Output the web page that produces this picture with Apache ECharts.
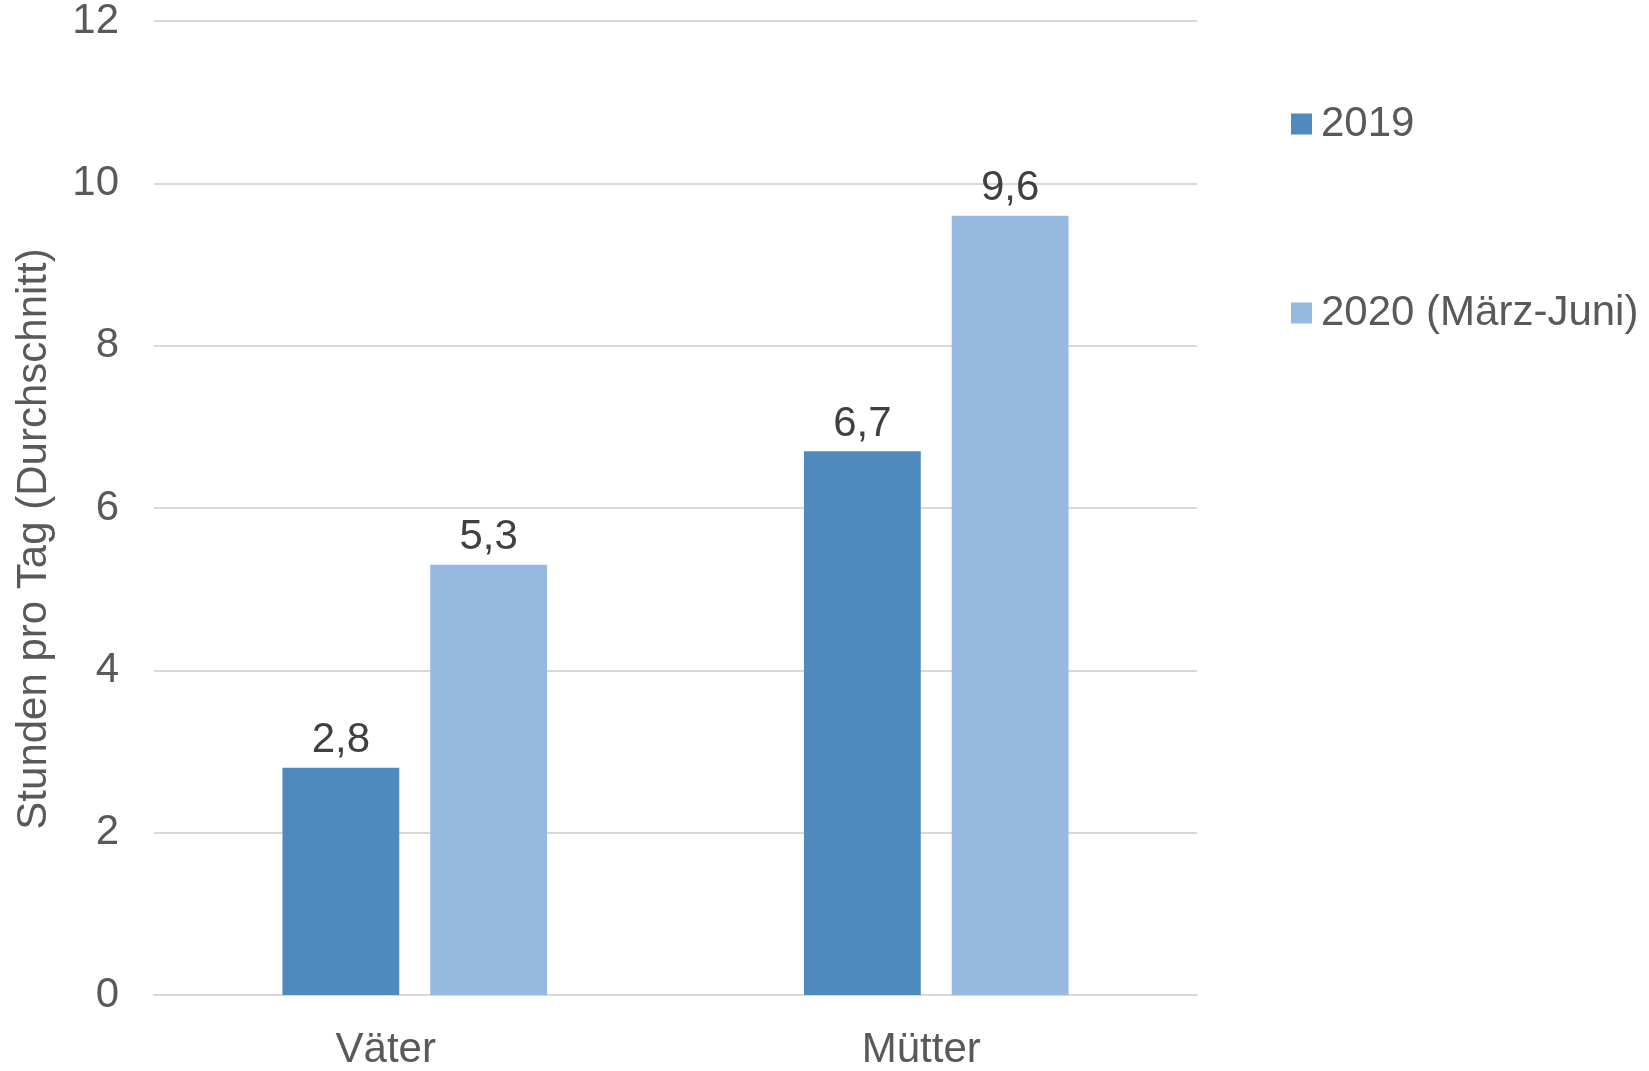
<!DOCTYPE html>
<html>
<head>
<meta charset="utf-8">
<script src="https://cdn.jsdelivr.net/npm/echarts@6/dist/echarts.min.js"></script>
<style>
  html, body { margin: 0; padding: 0; background: #fff; }
  #chart { width: 1649px; height: 1071px; }
</style>
</head>
<body>
<div id="chart"></div>
<script>
// Werte
const categories = ['Väter', 'Mütter']
const seriesNames = ['2019', '2020 (März-Juni)']
const values2019 = [2.8, 6.7]
const values2020 = [5.3, 9.6]
const yTicks = [0, 2, 4, 6, 8, 10, 12]

const axisColor = '#595959'
const labelColor = '#404040'
const fontFamily = 'Arial, "Liberation Sans", sans-serif'
const fs = 42

const chart = echarts.init(document.getElementById('chart'))

const barLabel = {
  show: true,
  position: 'top',
  distance: 6,
  color: labelColor,
  fontSize: fs,
  fontFamily: fontFamily,
  formatter: p => String(p.value).replace('.', ',')
}

const catStyle = { color: axisColor, fontSize: fs, fontFamily: fontFamily }

const option = {
  animation: false,
  color: ['#4F89BD', '#98B9DF'],
  grid: { left: 154, right: 452, top: 21, bottom: 76 },
  legend: {
    data: seriesNames,
    orient: 'vertical',
    left: 1286,
    top: 98,
    itemWidth: 21,
    itemHeight: 21,
    itemGap: 147,
    icon: 'rect',
    textStyle: {
      color: axisColor,
      fontSize: fs,
      lineHeight: 42,
      fontFamily: fontFamily,
      padding: [0, 0, 0, 4]
    }
  },
  xAxis: {
    type: 'category',
    data: categories,
    axisTick: { show: false },
    axisLine: { lineStyle: { color: '#D9D9D9', width: 2 } },
    axisLabel: {
      margin: 34,
      formatter: (value, index) => (index === 0 ? '{v|' : '{m|') + value + '}',
      rich: {
        v: Object.assign({ padding: [0, 58, 0, 0] }, catStyle),
        m: Object.assign({ padding: [0, 30, 0, 0] }, catStyle)
      }
    }
  },
  yAxis: {
    type: 'value',
    min: yTicks[0],
    max: yTicks[yTicks.length - 1],
    interval: 2,
    name: 'Stunden pro Tag (Durchschnitt)',
    nameLocation: 'middle',
    nameGap: 99,
    nameTextStyle: {
      color: axisColor,
      fontSize: fs,
      fontFamily: fontFamily,
      padding: [0, 62, 0, 0]
    },
    axisLine: { show: false },
    axisTick: { show: false },
    splitLine: { lineStyle: { color: '#D9D9D9', width: 2 } },
    axisLabel: {
      color: axisColor,
      fontSize: fs,
      fontFamily: fontFamily,
      margin: 35
    }
  },
  series: [
    {
      name: seriesNames[0],
      type: 'bar',
      data: values2019,
      barWidth: '22.4%',
      barGap: '26.5%',
      label: barLabel
    },
    {
      name: seriesNames[1],
      type: 'bar',
      data: values2020,
      barWidth: '22.4%',
      barGap: '26.5%',
      label: barLabel
    }
  ]
}

chart.setOption(option)
</script>
</body>
</html>
